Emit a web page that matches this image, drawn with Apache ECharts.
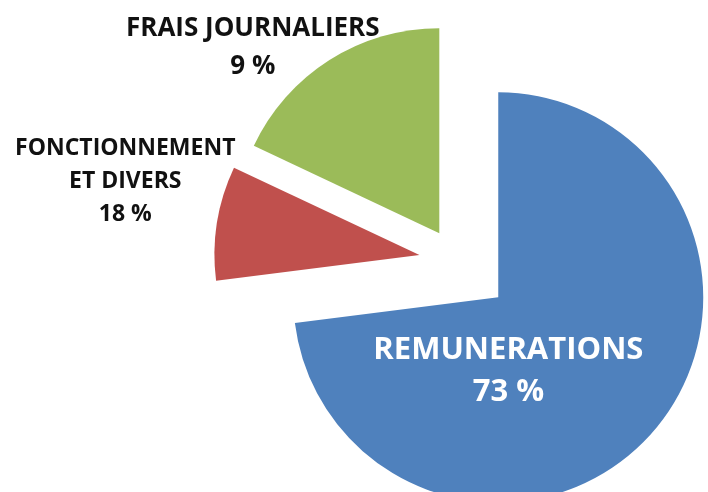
<!DOCTYPE html>
<html>
<head>
<meta charset="utf-8">
<script src="https://cdn.jsdelivr.net/npm/echarts@6/dist/echarts.min.js"></script>
<style>html,body{margin:0;padding:0;background:#fff}#c{width:708px;height:492px}</style>
</head>
<body>
<div id="c"></div>
<script>
// categories (clockwise from 12 o'clock)
var categories = ['REMUNERATIONS', 'FONCTIONNEMENT\nET DIVERS', 'FRAIS JOURNALIERS'];
// slice sizes as drawn in the picture (share of the circle, %)
var sliceValues = [73, 9, 18];
// percentages as printed on the labels
var printedPercent = ['73 %', '18 %', '9 %'];

var colors = ['#4F81BD', '#C0504D', '#9BBB59'];
var explode = [55, 38, 33];
var labelStyles = [
  {color: '#ffffff', fontSize: 31, lineHeight: 42, dx: -69, dy: 4},
  {color: '#111111', fontSize: 23, lineHeight: 33, dx: -190, dy: -57},
  {color: '#111111', fontSize: 26, lineHeight: 38, dx: -130, dy: -96}
];

var series = categories.map(function (cat, i) {
  var ls = labelStyles[i];
  return {
    type: 'pie',
    center: [457, 261],
    radius: 205,
    startAngle: 90,
    clockwise: true,
    silent: true,
    avoidLabelOverlap: false,
    selectedMode: 'multiple',
    selectedOffset: explode[i],
    labelLine: {show: false},
    emphasis: {disabled: true},
    labelLayout: {dx: ls.dx, dy: ls.dy},
    data: categories.map(function (n, j) {
      return {
        name: n,
        value: sliceValues[j],
        selected: j === i,
        itemStyle: {color: j === i ? colors[j] : 'rgba(0,0,0,0)', borderWidth: 0},
        label: {
          show: j === i,
          position: 'inside',
          formatter: categories[j] + '\n' + printedPercent[j],
          color: ls.color,
          fontFamily: 'Open Sans',
          fontWeight: 'bold',
          fontSize: ls.fontSize,
          lineHeight: ls.lineHeight,
          align: 'center',
          verticalAlign: 'middle'
        }
      };
    })
  };
});

var chart = echarts.init(document.getElementById('c'), null, {renderer: 'canvas'});
chart.setOption({
  animation: false,
  backgroundColor: '#ffffff',
  series: series
});
</script>
</body>
</html>
